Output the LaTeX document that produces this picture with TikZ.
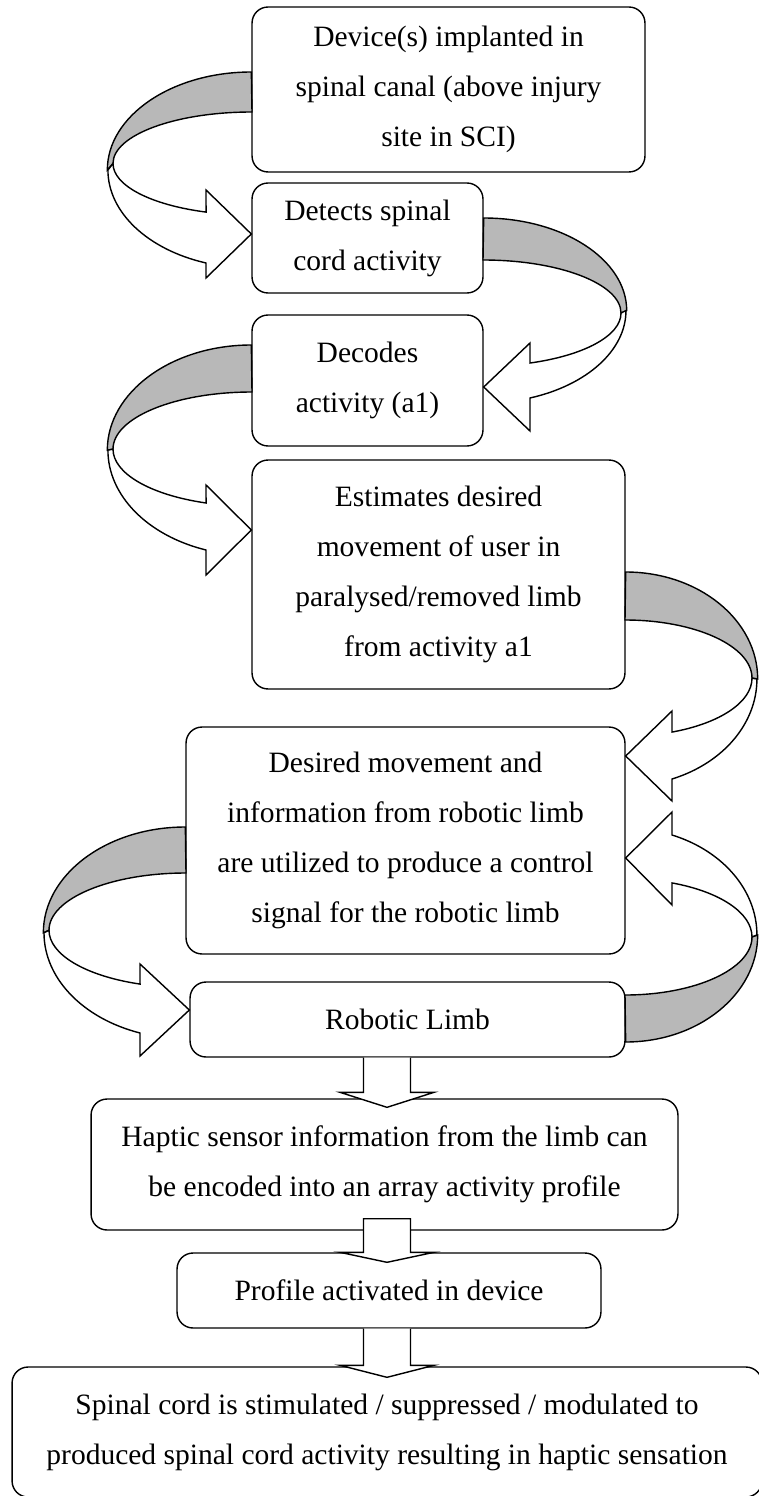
\documentclass[tikz,border=0pt]{standalone}
\usepackage{fontspec}
\setmainfont{Liberation Serif}
\usetikzlibrary{positioning,calc}

\begin{document}
\begin{tikzpicture}[x=0.02cm,y=-0.02cm,
    box/.style={draw,line width=0.8pt,rounded corners=0.32cm,align=center,inner sep=0pt,
        font=\fontsize{16.8}{28.45}\selectfont},
    back/.style={draw,line width=0.8pt,fill=black!28},
    front/.style={draw,line width=0.8pt,fill=white}]
    \useasboundingbox (0,0) rectangle (758,1496);
    %Boxes
    \node[box,minimum width=7.86cm,minimum height=3.30cm] (dev) at (448.5,89.5) {Device(s) implanted in\\spinal canal (above injury\\site in SCI)};
    \node[box,minimum width=4.62cm,minimum height=2.20cm] (det) at (367.5,238) {Detects spinal\\cord activity};
    \node[box,minimum width=4.62cm,minimum height=2.62cm] (dec) at (367.5,380.5) {Decodes\\activity (a1)};
    \node[box,minimum width=7.46cm,minimum height=4.58cm] (est) at (438.5,574.5) {Estimates desired\\movement of user in\\paralysed/removed limb\\from activity a1};
    \node[box,minimum width=8.78cm,minimum height=4.54cm] (des) at (405.5,840.5) {Desired movement and\\information from robotic limb\\are utilized to produce a control\\signal for the robotic limb};
    \node[box,minimum width=8.70cm,minimum height=1.50cm] (rob) at (407.5,1019.5) {Robotic Limb};
    \node[box,minimum width=11.74cm,minimum height=2.62cm] (hap) at (384.5,1164.5) {Haptic sensor information from the limb can\\be encoded into an array activity profile};
    \node[box,minimum width=8.48cm,minimum height=1.50cm] (pro) at (389,1290.5) {Profile activated in device};
    \node[box,minimum width=15.0cm,minimum height=2.60cm] (spi) at (387,1432) {Spinal cord is stimulated / suppressed / modulated to\\produced spinal cord activity resulting in haptic sensation};

    %Device to Detects
    \draw[back] (dev.west|-0,72) arc[start angle=-90,end angle=-180,x radius=144,y radius=98.1]
        -- (113,163.5) arc[start angle=180,end angle=270,x radius=139,y radius=51.5] -- cycle;
    \draw[front] (113,163.5) arc[start angle=180,end angle=109.3,x radius=139,y radius=51.5]
        -- (206,190) -- (det.west|-0,234) -- (206,278) -- (206,263)
        arc[start angle=108.6,end angle=180,x radius=144,y radius=98.1] -- cycle;
    %Detects to Decodes
    \draw[back] (det.east|-0,218) arc[start angle=-90,end angle=0,x radius=143,y radius=92.6]
        -- (621,313.1) arc[start angle=0,end angle=-90,x radius=138,y radius=53.1] -- cycle;
    \draw[front] (621,313.1) arc[start angle=0,end angle=70.1,x radius=138,y radius=53.1]
        -- (530,343) -- (dec.east|-0,387) -- (530,431) -- (530,398)
        arc[start angle=70.8,end angle=0,x radius=143,y radius=92.6] -- cycle;
    %Decodes to Estimates
    \draw[back] (dec.west|-0,345) arc[start angle=-90,end angle=-180,x radius=144,y radius=105.3]
        -- (113,449.1) arc[start angle=180,end angle=270,x radius=139,y radius=57.1] -- cycle;
    \draw[front] (113,449.1) arc[start angle=180,end angle=109.3,x radius=139,y radius=57.1]
        -- (206,485) -- (est.west|-0,530) -- (206,575) -- (206,550)
        arc[start angle=108.6,end angle=180,x radius=144,y radius=105.3] -- cycle;
    %Estimates to Desired
    \draw[back] (est.east|-0,572) arc[start angle=-90,end angle=0,x radius=132,y radius=107]
        -- (752,678.1) arc[start angle=0,end angle=-90,x radius=127,y radius=58.1] -- cycle;
    \draw[front] (752,678.1) arc[start angle=0,end angle=68.3,x radius=127,y radius=58.1]
        -- (672,711) -- (des.east|-0,756) -- (672,801) -- (672,779)
        arc[start angle=69.1,end angle=0,x radius=132,y radius=107] -- cycle;
    %Desired to Robotic
    \draw[back] (des.west|-0,827) arc[start angle=-90,end angle=-180,x radius=142,y radius=105.9]
        -- (49,930.2) arc[start angle=180,end angle=270,x radius=137,y radius=57.2] -- cycle;
    \draw[front] (49,930.2) arc[start angle=180,end angle=109.6,x radius=137,y radius=57.2]
        -- (140,964) -- (rob.west|-0,1010) -- (140,1056) -- (140,1033)
        arc[start angle=108.9,end angle=180,x radius=142,y radius=105.9] -- cycle;
    %Robotic feedback to Desired
    \draw[back] (rob.east|-0,1042) arc[start angle=90,end angle=0,x radius=132,y radius=107]
        -- (752,936.9) arc[start angle=0,end angle=90,x radius=127,y radius=58.1] -- cycle;
    \draw[front] (752,936.9) arc[start angle=0,end angle=-68.3,x radius=127,y radius=58.1]
        -- (672,905) -- (des.east|-0,858) -- (672,812) -- (672,835)
        arc[start angle=-69.1,end angle=0,x radius=132,y radius=107] -- cycle;

    %Block arrows down
    \coordinate (ax) at (387,0);
    \draw[front] ($(ax|-rob.south)+(-23.5,0)$) -- ($(ax|-hap.north)+(-23.5,-6)$) -- ++(-23.5,0)
        -- ($(ax|-hap.north)+(0,9)$) -- ($(ax|-hap.north)+(47,-6)$) -- ++(-23.5,0)
        -- ($(ax|-rob.south)+(23.5,0)$);
    \draw[front] ($(ax|-hap.south)+(-23.5,-12)$) -- ($(ax|-pro.north)+(-23.5,0)$) -- ++(-23.5,0)
        -- ($(ax|-pro.north)+(0,10)$) -- ($(ax|-pro.north)+(47,0)$) -- ++(-23.5,0)
        -- ($(ax|-hap.south)+(23.5,-12)$) -- cycle;
    \draw[front] ($(ax|-pro.south)+(-23.5,0)$) -- ($(ax|-spi.north)+(-23.5,-1)$) -- ++(-23.5,0)
        -- ($(ax|-spi.north)+(0,11)$) -- ($(ax|-spi.north)+(47,-1)$) -- ++(-23.5,0)
        -- ($(ax|-pro.south)+(23.5,0)$);
\end{tikzpicture}
\end{document}
